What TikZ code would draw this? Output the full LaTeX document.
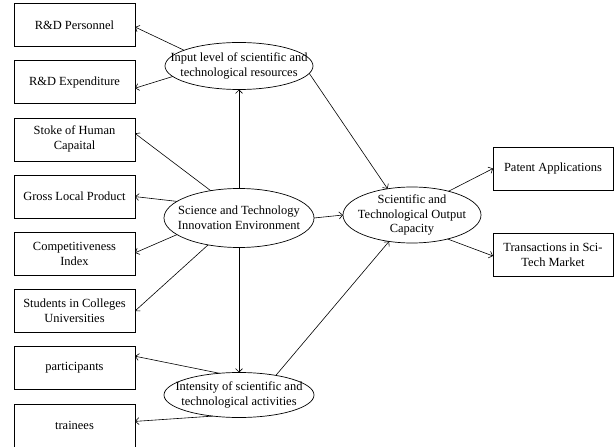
\documentclass[tikz,border=0pt]{standalone}
\usepackage{fontspec}
\setmainfont{Liberation Serif}
\usetikzlibrary{shapes.geometric,arrows.meta}
\begin{document}
\begin{tikzpicture}[x=1bp,y=-1bp, font=\fontsize{12.5}{15}\selectfont,
 box/.style={draw, line width=0.7pt, minimum width=121bp, minimum height=43bp, align=center, inner sep=0pt, outer sep=0pt},
 rbox/.style={box, minimum width=120bp},
 ell/.style={draw, ellipse, line width=0.7pt, inner sep=0pt, outer sep=0pt},
 lbl/.style={align=center, inner sep=0pt},
 arr/.style={line width=0.6pt, -{Straight Barb[length=3.5pt,width=7pt]}}]
\useasboundingbox (0,0) rectangle (614,447);
% left boxes
\node[box] (rdp)  at (74.5,25)    {R\&D Personnel};
\node[box] (rde)  at (74.5,82.2)  {R\&D Expenditure};
\node[box] (hum)  at (74.5,139.4) {Stoke of Human\\Capaital};
\node[box] (glp)  at (74.5,196.6) {Gross Local Product};
\node[box] (comp) at (74.5,253.8) {Competitiveness\\Index};
\node[box] (stud) at (74.5,311)   {Students in Colleges\\Universities};
\node[box] (part) at (74.5,368.2) {participants};
\node[box] (trai) at (74.5,425.4) {trainees};
% right boxes
\node[rbox] (pat) at (553,168.5) {Patent Applications};
\node[rbox] (tra) at (553,254.5) {Transactions in Sci-\\Tech Market};
% ellipses
\node[ell, minimum width=148bp, minimum height=47bp] (inp) at (239,66) {};
\node[lbl] (inpt) at (inp) {Input level of scientific and\\technological resources};
\node[ell, minimum width=150bp, minimum height=59bp] (env) at (239,218) {};
\node[lbl] (envt) at (env) {Science and Technology\\Innovation Environment};
\node[ell, minimum width=150bp, minimum height=45bp] (int) at (239,395) {};
\node[lbl] (intt) at (int) {Intensity of scientific and\\technological activities};
\node[ell, minimum width=138bp, minimum height=56bp] (out) at (412,215) {};
\node[lbl] (outt) at (out) {Scientific and\\Technological Output\\Capacity};
% connectors
\draw[arr] (inp.164) -- ([yshift=-2bp]rdp.east);
\draw[arr] (inp.189) -- ([yshift=-6bp]rde.east);
\draw[arr] (inp.354) -- (out.133);
\draw[arr] (env.north) -- (inp.south);
\draw[arr] (env.136) -- ([yshift=6bp]hum.east);
\draw[arr] (env.165) -- (glp.east);
\draw[arr] (env.195) -- ([yshift=1bp]comp.east);
\draw[arr] (env.221) -- (stud.east);
\draw[arr] (env.south) -- (int.north);
\draw[arr] (env.east) -- (out.west);
\draw[arr] (int.132) -- ([yshift=12bp]part.east);
\draw[arr] (int.219) -- ([yshift=4bp]trai.east);
\draw[arr] (int.28) -- (out.229);
\draw[arr] (out.33) -- (pat.west);
\draw[arr] (out.326) -- ([yshift=-1.5bp]tra.west);
\end{tikzpicture}
\end{document}
